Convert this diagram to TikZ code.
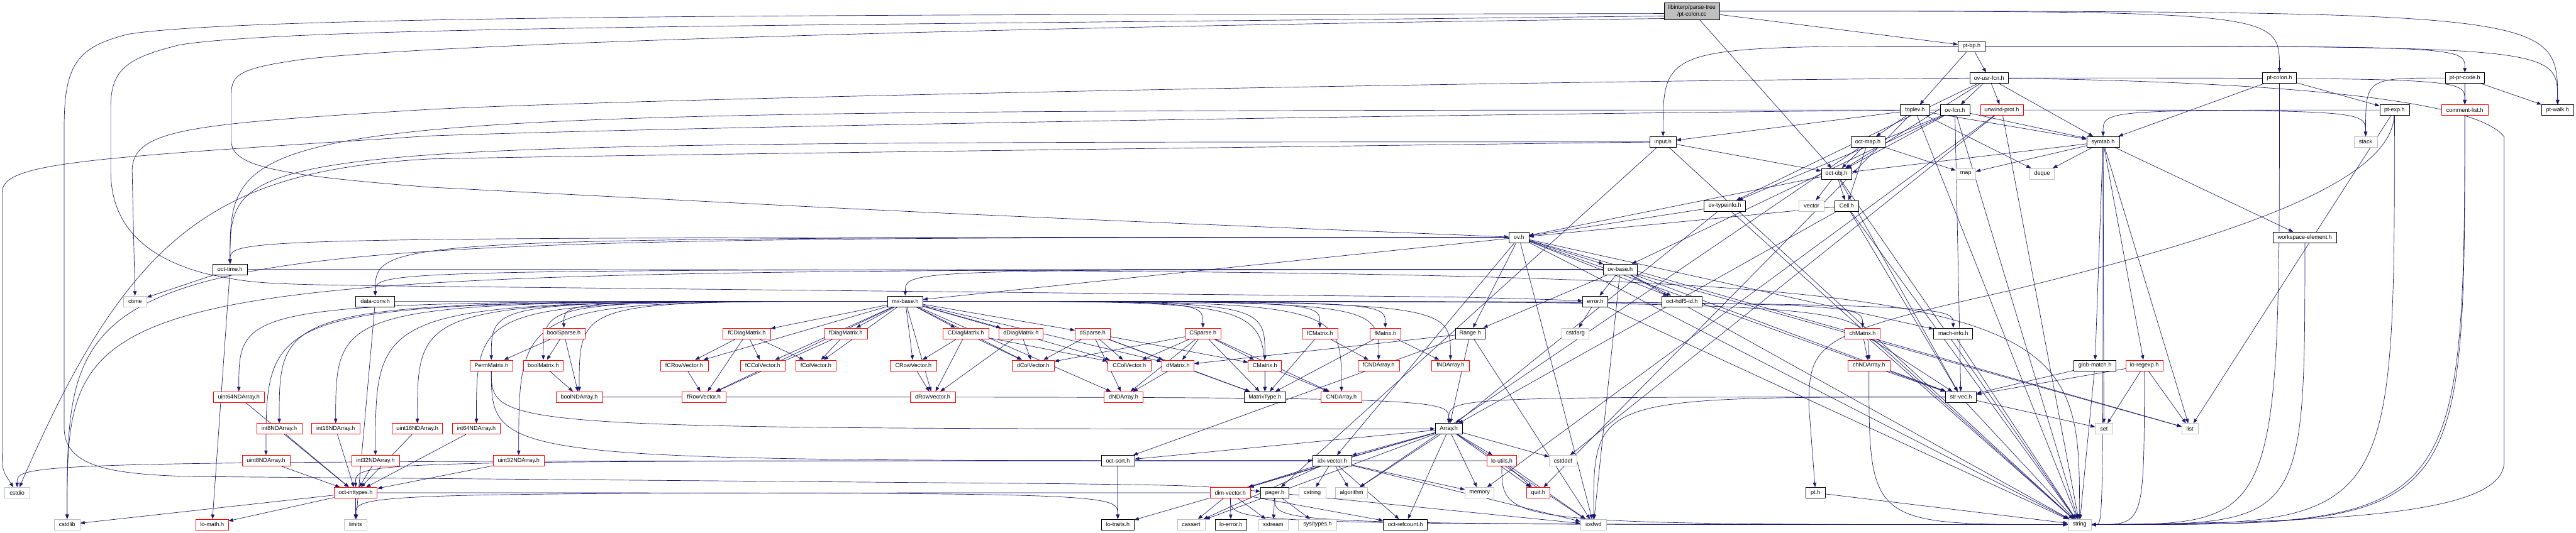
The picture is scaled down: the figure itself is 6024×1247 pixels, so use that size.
\documentclass[tikz,border=0pt]{standalone}
\usepackage{fontspec}
\setmainfont{Liberation Sans}
\usetikzlibrary{arrows.meta}
\definecolor{edgec}{HTML}{191970}
\definecolor{grayb}{HTML}{BFBFBF}
\definecolor{redb}{HTML}{FF0000}
\pgfdeclarelayer{bg}
\pgfsetlayers{bg,main}
\tikzset{
  nb/.style={draw=black, line width=0.75pt, fill=white, minimum height=18.75pt, inner sep=0pt, font=\fontsize{10}{12}\selectfont, text=black},
  nr/.style={nb, draw=redb},
  ng/.style={nb, draw=grayb},
  nt/.style={nb, fill=grayb, minimum height=30pt, align=center},
  e/.style={draw=edgec, line width=0.75pt, -{Triangle[length=8pt,width=6pt]}}
}
\newcommand\nd[6]{\node[#2, minimum width=#5*0.75pt] (#1) at (#3,#4) {#6};}
\newcommand\edges[2]{\foreach \t in {#2}{\draw[e] (#1) -- (\t);}}
\newcommand\edgesH[2]{\foreach \t in {#2}{\draw[e] (#1) .. controls (\t |- #1) .. (\t);}}
\newcommand\edgesV[2]{\foreach \t in {#2}{\draw[e] (#1) .. controls (#1 |- \t) .. (\t);}}
\begin{document}
\begin{tikzpicture}[x=0.75pt,y=-0.75pt]
\useasboundingbox (0,0) rectangle (6024,1247);
\begin{pgfonlayer}{bg}
\fill[white] (0,0) rectangle (6024,1247);
\end{pgfonlayer}
% row 0
\nd{top}{nt}{3956.5}{26}{129}{libinterp/parse-tree\\/pt-colon.cc}
% row 1
\nd{ptbp}{nb}{4610.5}{108}{63}{pt-bp.h}
% row 2
\nd{ovusr}{nb}{4651.5}{182.5}{91}{ov-usr-fcn.h}
\nd{ptcolonh}{nb}{5330.5}{182.5}{79}{pt-colon.h}
\nd{ptpr}{nb}{5764}{182.5}{90}{pt-pr-code.h}
% row 3
\nd{toplev}{nb}{4478}{257.5}{68}{toplev.h}
\nd{ovfcn}{nb}{4571.5}{257.5}{69}{ov-fcn.h}
\nd{unwind}{nr}{4681}{257.5}{100}{unwind-prot.h}
\nd{ptexp}{nb}{5599.5}{257.5}{69}{pt-exp.h}
\nd{comment}{nr}{5764}{257.5}{108}{comment-list.h}
\nd{ptwalk}{nb}{5981}{257.5}{76}{pt-walk.h}
% row 4
\nd{input}{nb}{3889}{332}{62}{input.h}
\nd{octmap}{nb}{4368}{332}{80}{oct-map.h}
\nd{symtab}{nb}{4918}{332}{76}{symtab.h}
\nd{stack}{ng}{5532}{332}{54}{stack}
% row 5
\nd{octobj}{nb}{4294.5}{406.5}{71}{oct-obj.h}
\nd{map}{ng}{4597}{406.5}{46}{map}
\nd{deque}{ng}{4775.5}{406.5}{57}{deque}
% row 6
\nd{ovtype}{nb}{4033.5}{481.5}{97}{ov-typeinfo.h}
\nd{vector}{ng}{4236.5}{481.5}{59}{vector}
\nd{cell}{nb}{4318.5}{481.5}{55}{Cell.h}
% row 7
\nd{ovh}{nb}{3552}{555.5}{46}{ov.h}
\nd{wse}{nb}{5390}{555.5}{148}{workspace-element.h}
% row 8
\nd{octtime}{nb}{538}{630.5}{80}{oct-time.h}
\nd{ovbase}{nb}{3789}{630.5}{78}{ov-base.h}
% row 9
\nd{ctime}{ng}{316}{705}{54}{ctime}
\nd{dataconv}{nb}{877.5}{705}{91}{data-conv.h}
\nd{mxbase}{nb}{2117}{705}{82}{mx-base.h}
\nd{error}{nb}{3730.5}{705}{59}{error.h}
\nd{hdf5}{nb}{3933}{705}{94}{oct-hdf5-id.h}
% row 10
\nd{boolsparse}{nr}{1318.5}{780}{99}{boolSparse.h}
\nd{fcdiag}{nr}{1746.5}{780}{111}{fCDiagMatrix.h}
\nd{fdiag}{nr}{1978}{780}{100}{fDiagMatrix.h}
\nd{cdiag}{nr}{2258.5}{780}{107}{CDiagMatrix.h}
\nd{ddiag}{nr}{2387.5}{780}{103}{dDiagMatrix.h}
\nd{dsparse}{nr}{2555}{780}{82}{dSparse.h}
\nd{csparse}{nr}{2813}{780}{84}{CSparse.h}
\nd{fcmatrix}{nr}{3086.5}{780}{83}{fCMatrix.h}
\nd{fmatrix}{nr}{3239.5}{780}{73}{fMatrix.h}
\nd{range}{nb}{3438}{780}{70}{Range.h}
\nd{cstdarg}{ng}{3684}{780}{64}{cstdarg}
\nd{chmatrix}{nr}{4355.5}{780}{83}{chMatrix.h}
\nd{machinfo}{nb}{4567.5}{780}{91}{mach-info.h}
% row 11
\nd{perm}{nr}{1149}{855}{100}{PermMatrix.h}
\nd{boolmatrix}{nr}{1270.5}{855}{93}{boolMatrix.h}
\nd{fcrow}{nr}{1600}{855}{112}{fCRowVector.h}
\nd{fccol}{nr}{1783.5}{855}{105}{fCColVector.h}
\nd{fcol}{nr}{1908}{855}{94}{fColVector.h}
\nd{crow}{nr}{2136}{855}{108}{CRowVector.h}
\nd{dcol}{nr}{2416}{855}{98}{dColVector.h}
\nd{ccol}{nr}{2641}{855}{102}{CColVector.h}
\nd{dmatrix}{nr}{2754.5}{855}{75}{dMatrix.h}
\nd{cmatrix}{nr}{2958}{855}{78}{CMatrix.h}
\nd{fcnd}{nr}{3224}{855}{98}{fCNDArray.h}
\nd{fnd}{nr}{3392}{855}{88}{fNDArray.h}
\nd{chnd}{nr}{4370.5}{855}{99}{chNDArray.h}
\nd{glob}{nb}{4899}{855}{98}{glob-match.h}
\nd{regexp}{nr}{5014.5}{855}{87}{lo-regexp.h}
% row 12
\nd{uint64}{nr}{558.5}{929}{119}{uint64NDArray.h}
\nd{boolnd}{nr}{1354.5}{929}{109}{boolNDArray.h}
\nd{frow}{nr}{1646}{929}{102}{fRowVector.h}
\nd{drow}{nr}{2181}{929}{106}{dRowVector.h}
\nd{dnd}{nr}{2627.5}{929}{91}{dNDArray.h}
\nd{mtype}{nb}{2958}{929}{98}{MatrixType.h}
\nd{cnd}{nr}{3137}{929}{96}{CNDArray.h}
\nd{strvec}{nb}{4585.5}{929}{73}{str-vec.h}
% row 13
\nd{int8}{nr}{653}{1003.5}{106}{int8NDArray.h}
\nd{int16}{nr}{785}{1003.5}{112}{int16NDArray.h}
\nd{uint16}{nr}{976}{1003.5}{118}{uint16NDArray.h}
\nd{int64}{nr}{1114}{1003.5}{112}{int64NDArray.h}
\nd{array}{nb}{3388}{1003.5}{64}{Array.h}
\nd{set}{ng}{4920}{1003.5}{40}{set}
\nd{list}{ng}{5121}{1003.5}{38}{list}
% row 14
\nd{uint8}{nr}{622}{1078}{112}{uint8NDArray.h}
\nd{int32}{nr}{878}{1078}{112}{int32NDArray.h}
\nd{uint32}{nr}{1213}{1078}{118}{uint32NDArray.h}
\nd{octsort}{nb}{2614}{1078}{78}{oct-sort.h}
\nd{idx}{nb}{3115.5}{1078}{91}{idx-vector.h}
\nd{loutils}{nr}{3512}{1078}{70}{lo-utils.h}
\nd{cstddef}{ng}{3655.5}{1078}{65}{cstddef}
% row 15
\nd{cstdio}{ng}{40}{1153}{58}{cstdio}
\nd{inttypes}{nr}{831.5}{1153}{101}{oct-inttypes.h}
\nd{dimvec}{nr}{2877}{1153}{94}{dim-vector.h}
\nd{pager}{nb}{2981}{1153}{66}{pager.h}
\nd{cstring}{ng}{3069}{1153}{62}{cstring}
\nd{algorithm}{ng}{3160.5}{1153}{75}{algorithm}
\nd{memory}{ng}{3460}{1153}{68}{memory}
\nd{quit}{nr}{3597}{1153}{54}{quit.h}
\nd{pth}{nb}{4245.5}{1153}{45}{pt.h}
% row 16
\nd{cstdlib}{ng}{157}{1227.5}{60}{cstdlib}
\nd{lomath}{nr}{496}{1227.5}{76}{lo-math.h}
\nd{limits}{ng}{831.5}{1227.5}{53}{limits}
\nd{lotraits}{nb}{2614}{1227.5}{76}{lo-traits.h}
\nd{cassert}{ng}{2785.5}{1227.5}{65}{cassert}
\nd{loerror}{nb}{2878.5}{1227.5}{73}{lo-error.h}
\nd{sstream}{ng}{2977.5}{1227.5}{69}{sstream}
\nd{systypes}{ng}{3081}{1227.5}{90}{sys/types.h}
\nd{refcount}{nb}{3286.5}{1227.5}{103}{oct-refcount.h}
\nd{iosfwd}{ng}{3726.5}{1227.5}{61}{iosfwd}
\nd{string}{ng}{4863}{1227.5}{54}{string}

\begin{pgfonlayer}{bg}
% hand-routed long connectors around the left side
\draw[e] (top.185) .. controls (2500,35) and (600,30) .. (300,80) .. controls (180,110) and (150,150) .. (150,300) -- (150,1000) .. controls (150,1090) and (250,1110) .. (450,1115) -- (2500,1132) .. controls (2800,1136) .. (pager);
\draw[e] (top.190) .. controls (2000,60) and (700,60) .. (420,105) .. controls (300,135) and (259,160) .. (259,250) -- (259,400) .. controls (259,520) and (330,600) .. (480,640) .. controls (600,665) .. (1004,670) -- (3400,695) .. controls (3600,700) .. (error);
\draw[e] (top.195) .. controls (2500,60) and (1000,100) .. (700,140) .. controls (560,160) and (541,175) .. (541,220) -- (541,330) .. controls (541,390) and (650,410) .. (1004,438) .. controls (2200,500) .. (ovh);
\draw[e] (ovusr) .. controls (3500,190) and (1500,230) .. (1004,256) .. controls (450,290) and (309,300) .. (309,400) -- (ctime);
\draw[e] (toplev) .. controls (3000,272) and (1500,300) .. (1004,318) .. controls (200,370) and (5,380) .. (5,450) -- (5,1050) .. controls (5,1100) .. (cstdio);
\draw[e] (input) .. controls (2500,350) and (1300,365) .. (1004,372) .. controls (500,400) and (300,550) .. (cstdio);
\draw[e] (ovusr) .. controls (5200,190) and (5780,220) .. (5856,320) -- (5856,1080) .. controls (5856,1200) and (5500,1222) .. (string);
\draw[e] (ptexp) .. controls (5590,450) and (5100,580) .. (4700,680) .. controls (4250,780) and (4230,800) .. (4230,950) -- (pth);
% regular connectors
\edges{top}{octobj,ptbp}
\edgesH{top}{ptcolonh,ptwalk}
\edges{ptbp}{ovusr,toplev}
\edgesH{ptbp}{input,ptwalk,ptpr}
\edges{ptcolonh}{ptexp,symtab}
\edgesV{ptcolonh}{string}
\edges{ptpr}{comment,ptwalk}
\edgesH{ptpr}{stack}
\edgesV{ptpr}{string}
\edges{ovusr}{octobj,ovfcn,ovtype,symtab,unwind}
\edgesH{ovusr}{comment}
\edges{toplev}{deque,string,octmap,symtab,input,quit}
\edges{ovfcn}{string,strvec,octobj,ovbase,ovtype,symtab}
\edgesH{ovfcn}{octtime}
\edges{unwind}{cstddef,memory,string}
\edgesH{unwind}{stack}
\edges{ptexp}{list}
\edgesH{ptexp}{symtab}
\edgesV{ptexp}{string}
\edgesV{comment}{string}
\edges{input}{string,octobj,pager}
\edgesH{input}{octtime}
\edges{octmap}{algorithm,map,cell,octobj}
\edges{symtab}{deque,list,map,set,glob,regexp,octobj,wse}
\edgesV{symtab}{string}
\edges{octobj}{string,vector,strvec,cell,ovh}
\edges{cell}{string,array,strvec,ovh}
\edges{ovtype}{string,array,ovh}
\edges{ovh}{iosfwd,string,list,range,idx,machinfo,mxbase,strvec,ovbase,hdf5}
\edgesH{ovh}{cstdlib,dataconv,octtime}
\edges{ovbase}{iosfwd,list,string,range,strvec,error,hdf5}
\edgesH{ovbase}{cstdlib,dataconv,mxbase}
\edges{octtime}{ctime,lomath}
\edgesH{octtime}{string}
\edges{dataconv}{limits}
\edgesH{dataconv}{machinfo}
\edges{mxbase}{dmatrix,dcol,ccol,fcol,fccol,drow,crow,frow,fcrow,ddiag,cdiag,fdiag,fcdiag,dnd,dsparse}
\edgesH{mxbase}{mtype,boolmatrix,chmatrix,cmatrix,fmatrix,fcmatrix,perm,boolnd,chnd,cnd,fnd,fcnd,int8,int16,int32,int64,uint8,uint16,uint32,uint64,boolsparse,csparse}
\edges{error}{cstdarg,string}
\edges{boolsparse}{perm,boolmatrix,boolnd}
\edges{fcdiag}{fcrow,fccol,fcol,frow}
\edges{fdiag}{fcol,frow}
\edges{cdiag}{crow,drow,dcol,ccol}
\edges{ddiag}{drow,dcol}
\edges{dsparse}{dcol,ccol,dmatrix,dnd,mtype,cmatrix}
\edges{csparse}{dcol,ccol,dmatrix,cmatrix,mtype,dnd,cnd}
\edges{fcmatrix}{fcnd,mtype}
\edges{fmatrix}{fnd,mtype}
\edges{range}{dmatrix,octsort,iosfwd,array}
\edges{chmatrix}{chnd,strvec,string}
\edges{machinfo}{string}
\edgesV{perm}{array,idx}
\edges{boolmatrix}{boolnd}
\edges{fcrow}{frow}
\edges{crow}{drow}
\edges{dmatrix}{dnd,mtype}
\edges{cmatrix}{mtype,cnd}
\edges{chnd}{strvec}
\edgesV{chnd}{string}
\edges{glob}{strvec,string}
\edges{regexp}{strvec,set,list}
\edgesV{regexp}{string}
\edges{strvec}{set,string}
\edgesH{strvec}{array,iosfwd}
\edges{int8}{inttypes}
\edges{int16}{inttypes}
\edges{uint16}{inttypes}
\edges{int64}{inttypes}
\edges{uint8}{inttypes}
\edges{int32}{inttypes}
\edges{uint32}{inttypes}
\edges{uint64}{inttypes}
\edgesH{boolnd}{array}
\edges{array}{cassert,cstddef,iosfwd,algorithm,dimvec,idx,lotraits,loutils,octsort,quit,refcount,memory}
\edges{idx}{cassert,cstring,algorithm,iosfwd,memory,dimvec,refcount}
\edgesH{idx}{inttypes}
\edges{loutils}{iosfwd,quit}
\edgesH{loutils}{cstdio}
\edgesV{loutils}{string}
\edges{octsort}{lotraits}
\edges{inttypes}{cstdlib,lomath,limits}
\edgesH{inttypes}{lotraits}
\edges{dimvec}{cassert,sstream,loerror,refcount}
\edgesH{dimvec}{limits}
\edgesV{dimvec}{string}
\edges{pager}{sstream,iosfwd,systypes}
\edgesV{pager}{string}
\edges{pth}{string}
\edgesV{wse}{string}
\end{pgfonlayer}
\end{tikzpicture}
\end{document}
